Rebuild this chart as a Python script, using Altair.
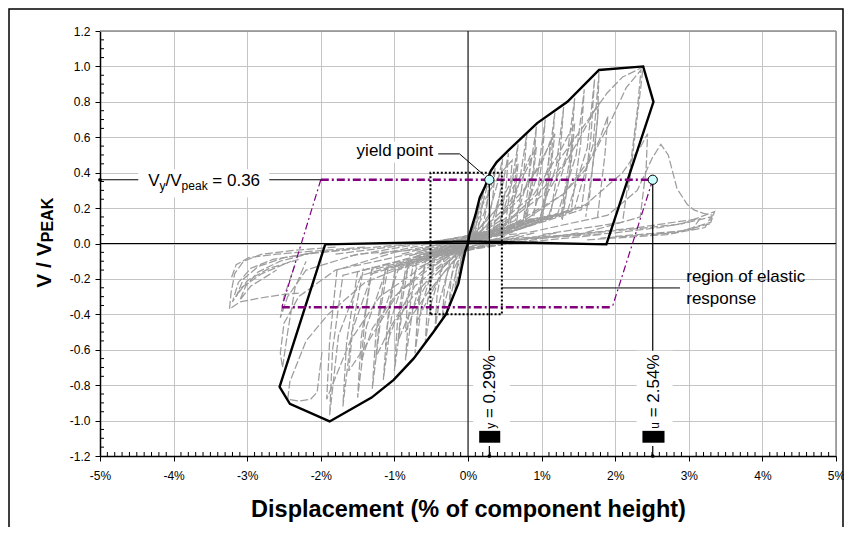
import altair as alt
import pandas as pd

FONT = "Liberation Sans"

# ---------------- values ----------------
x_ticks = [-5, -4, -3, -2, -1, 0, 1, 2, 3, 4, 5]
y_ticks = [-1.2, -1.0, -0.8, -0.6, -0.4, -0.2, 0.0, 0.2, 0.4, 0.6, 0.8, 1.0, 1.2]

# black envelope polygon (displacement %, V/Vpeak)
envelope_d = [-1.94, 0.00, 1.88, 2.52, 2.38, 1.78, 1.35, 0.94, 0.56, 0.39, 0.31, 0.23, 0.16,
              0.10, 0.02, 0.00, -0.04, -0.13, -0.30, -0.47, -0.74, -1.01, -1.31, -1.88,
              -2.42, -2.56, -1.94]
envelope_v = [-0.005, 0.012, -0.005, 0.80, 1.00, 0.98, 0.80, 0.68, 0.53, 0.46, 0.41, 0.32, 0.26,
              0.16, 0.05, 0.00, -0.045, -0.225, -0.40, -0.50, -0.65, -0.77, -0.87, -1.005,
              -0.905, -0.81, -0.005]

# grey hysteresis half-cycles (displacement %, V/Vpeak)
loop_p01 = [(-0.03, -0.02), (0.02, 0.04), (0.05, 0.08), (0.08, 0.12), (0.06, 0.06), (0.03, 0.02), (0.0, 0.0)]
loop_p02 = [(-0.05, -0.03), (0.03, 0.05), (0.09, 0.14), (0.14, 0.22), (0.12, 0.12), (0.07, 0.04), (0.0, 0.0)]
loop_p03 = [(-0.08, -0.03), (0.04, 0.05), (0.12, 0.15), (0.18, 0.25), (0.21, 0.30), (0.18, 0.17), (0.12, 0.05), (0.02, 0.0)]
loop_p04 = [(-0.10, -0.04), (0.05, 0.05), (0.16, 0.16), (0.24, 0.29), (0.29, 0.38), (0.26, 0.22), (0.19, 0.07), (0.04, 0.01)]
loop_p05 = [(-0.12, -0.04), (0.07, 0.05), (0.22, 0.17), (0.31, 0.32), (0.37, 0.43), (0.34, 0.27), (0.26, 0.08), (0.06, 0.01)]
loop_p06 = [(-0.15, -0.04), (0.10, 0.05), (0.28, 0.16), (0.40, 0.34), (0.47, 0.48), (0.44, 0.30), (0.35, 0.09), (0.08, 0.02)]
loop_p07 = [(-0.20, -0.05), (0.12, 0.05), (0.34, 0.14), (0.47, 0.33), (0.55, 0.51), (0.52, 0.33), (0.43, 0.10), (0.10, 0.02)]
loop_p08 = [(-0.25, -0.04), (0.15, 0.05), (0.44, 0.13), (0.59, 0.33), (0.68, 0.56), (0.64, 0.36), (0.55, 0.11), (0.14, 0.03)]
loop_p09 = [(-0.30, -0.05), (0.18, 0.05), (0.54, 0.12), (0.70, 0.35), (0.80, 0.62), (0.76, 0.40), (0.66, 0.12), (0.18, 0.03)]
loop_p10 = [(-0.35, -0.05), (0.20, 0.05), (0.64, 0.13), (0.83, 0.38), (0.93, 0.66), (0.89, 0.43), (0.78, 0.13), (0.22, 0.03)]
loop_p11 = [(-0.40, -0.05), (0.25, 0.05), (0.75, 0.13), (0.95, 0.40), (1.05, 0.70), (1.00, 0.45), (0.89, 0.14), (0.26, 0.04)]
loop_p12 = [(-0.45, -0.05), (0.28, 0.06), (0.86, 0.14), (1.08, 0.42), (1.18, 0.74), (1.13, 0.48), (1.01, 0.15), (0.30, 0.04)]
loop_p13 = [(-0.50, -0.06), (0.32, 0.06), (0.98, 0.15), (1.20, 0.44), (1.30, 0.77), (1.25, 0.50), (1.12, 0.16), (0.34, 0.04)]
loop_p14 = [(-0.55, -0.06), (0.36, 0.06), (1.10, 0.16), (1.34, 0.48), (1.45, 0.82), (1.40, 0.53), (1.27, 0.17), (0.38, 0.04)]
loop_p15 = [(-0.60, -0.06), (0.40, 0.06), (1.22, 0.17), (1.47, 0.50), (1.58, 0.87), (1.53, 0.56), (1.40, 0.18), (0.42, 0.05)]
loop_p16 = [(-0.70, -0.07), (0.45, 0.07), (1.35, 0.18), (1.62, 0.54), (1.72, 0.93), (1.67, 0.60), (1.54, 0.19), (0.46, 0.05)]
loop_p17 = [(-0.80, -0.07), (0.50, 0.07), (1.45, 0.20), (1.70, 0.56), (1.78, 0.97), (1.76, 0.70), (1.64, 0.22), (0.50, 0.05)]
loop_q01 = [(-0.3, -0.03), (0.10, 0.06), (0.40, 0.20), (0.60, 0.36), (0.68, 0.45), (0.64, 0.28), (0.56, 0.08)]
loop_q02 = [(-0.5, -0.04), (0.15, 0.06), (0.55, 0.22), (0.80, 0.42), (0.93, 0.55), (0.88, 0.35), (0.78, 0.10)]
loop_q03 = [(-0.7, -0.05), (0.20, 0.06), (0.70, 0.25), (1.00, 0.47), (1.18, 0.62), (1.12, 0.40), (1.00, 0.12)]
loop_q04 = [(-0.9, -0.06), (0.30, 0.07), (0.90, 0.28), (1.25, 0.52), (1.45, 0.68), (1.40, 0.45), (1.27, 0.14)]
loop_q05 = [(-1.2, -0.06), (0.40, 0.08), (1.10, 0.30), (1.50, 0.58), (1.78, 0.80), (1.72, 0.52), (1.60, 0.15)]
loop_q06 = [(-1.6, -0.07), (0.50, 0.08), (1.30, 0.28), (1.70, 0.50), (1.95, 0.70), (2.15, 0.88), (2.35, 0.98),
            (2.30, 0.75), (2.20, 0.42), (2.10, 0.12), (1.00, 0.05)]
loop_q07 = [(1.20, 0.45), (1.60, 0.68), (1.89, 0.85), (2.10, 0.94), (2.30, 0.98), (2.38, 1.00), (2.33, 0.82),
            (2.26, 0.58), (2.18, 0.30)]
loop_q08 = [(-1.8, -0.06), (0.60, 0.07), (1.60, 0.22), (2.10, 0.40), (2.35, 0.55), (2.44, 0.62), (2.42, 0.42),
            (2.34, 0.15), (1.50, 0.05)]
loop_q09 = [(-2.0, -0.05), (0.80, 0.06), (1.90, 0.16), (2.30, 0.30), (2.50, 0.48), (2.62, 0.56), (2.72, 0.50),
            (2.84, 0.31), (2.98, 0.22), (3.07, 0.19), (3.20, 0.17), (3.32, 0.16), (3.28, 0.11), (2.80, 0.06),
            (1.80, 0.03)]
loop_q10 = [(0.0, 0.0), (1.0, 0.03), (2.0, 0.06), (2.6, 0.09), (3.0, 0.12), (3.30, 0.15), (3.22, 0.09),
            (2.7, 0.05), (1.6, 0.02)]
loop_q11 = [(0.2, 0.01), (1.2, 0.04), (2.2, 0.08), (2.9, 0.11), (3.35, 0.18), (3.30, 0.12), (2.9, 0.07), (2.0, 0.04)]
loop_q12 = [(0.3, 0.02), (1.4, 0.05), (2.3, 0.09), (2.8, 0.12), (3.15, 0.14), (3.05, 0.08), (2.5, 0.05)]
loop_f01 = [(-0.2, -0.02), (0.05, 0.04), (0.30, 0.15), (0.55, 0.28), (0.75, 0.40), (0.85, 0.50), (0.82, 0.32), (0.74, 0.10)]
loop_f02 = [(-0.4, -0.03), (0.05, 0.03), (0.40, 0.14), (0.75, 0.30), (1.00, 0.45), (1.12, 0.58), (1.08, 0.38), (0.98, 0.12)]
loop_f03 = [(-0.6, -0.04), (0.10, 0.03), (0.60, 0.15), (1.00, 0.30), (1.30, 0.45), (1.42, 0.60), (1.38, 0.40), (1.28, 0.13)]
loop_f04 = [(-1.0, -0.05), (0.10, 0.03), (0.80, 0.14), (1.30, 0.28), (1.60, 0.42), (1.80, 0.60), (1.90, 0.72),
            (1.86, 0.50), (1.76, 0.15)]
loop_f05 = [(-0.1, -0.01), (0.04, 0.06), (0.15, 0.18), (0.30, 0.30), (0.45, 0.40), (0.60, 0.47), (0.57, 0.30), (0.50, 0.08)]
loop_n01 = [(0.03, 0.02), (-0.02, -0.03), (-0.04, -0.07), (-0.06, -0.10), (-0.05, -0.05), (-0.02, -0.01), (0.0, 0.0)]
loop_n02 = [(0.05, 0.03), (-0.03, -0.04), (-0.08, -0.12), (-0.12, -0.20), (-0.10, -0.10), (-0.05, -0.02), (0.0, 0.0)]
loop_n03 = [(0.07, 0.03), (-0.04, -0.04), (-0.11, -0.13), (-0.16, -0.23), (-0.18, -0.28), (-0.16, -0.15), (-0.10, -0.04), (-0.01, 0.0)]
loop_n04 = [(0.09, 0.04), (-0.05, -0.04), (-0.15, -0.14), (-0.22, -0.27), (-0.26, -0.36), (-0.23, -0.20), (-0.16, -0.05), (-0.02, 0.0)]
loop_n05 = [(0.12, 0.04), (-0.07, -0.04), (-0.20, -0.15), (-0.30, -0.31), (-0.35, -0.43), (-0.32, -0.25), (-0.23, -0.06), (-0.04, -0.01)]
loop_n06 = [(0.15, 0.05), (-0.09, -0.04), (-0.27, -0.15), (-0.39, -0.33), (-0.45, -0.49), (-0.42, -0.29), (-0.32, -0.07), (-0.06, -0.01)]
loop_n07 = [(0.20, 0.05), (-0.12, -0.04), (-0.36, -0.14), (-0.50, -0.34), (-0.58, -0.56), (-0.55, -0.33), (-0.45, -0.08), (-0.09, -0.02)]
loop_n08 = [(0.25, 0.05), (-0.15, -0.04), (-0.47, -0.13), (-0.63, -0.35), (-0.72, -0.62), (-0.68, -0.38), (-0.58, -0.10), (-0.12, -0.02)]
loop_n09 = [(0.30, 0.06), (-0.18, -0.04), (-0.58, -0.13), (-0.75, -0.37), (-0.85, -0.66), (-0.81, -0.42), (-0.70, -0.11), (-0.15, -0.02)]
loop_n10 = [(0.35, 0.06), (-0.22, -0.05), (-0.70, -0.14), (-0.90, -0.40), (-1.00, -0.72), (-0.96, -0.45), (-0.84, -0.12), (-0.18, -0.03)]
loop_n11 = [(0.40, 0.06), (-0.26, -0.05), (-0.82, -0.14), (-1.04, -0.42), (-1.15, -0.77), (-1.10, -0.48), (-0.98, -0.13), (-0.22, -0.03)]
loop_n12 = [(0.45, 0.06), (-0.30, -0.05), (-0.95, -0.15), (-1.19, -0.44), (-1.30, -0.82), (-1.25, -0.50), (-1.12, -0.14), (-0.26, -0.03)]
loop_n13 = [(0.50, 0.07), (-0.35, -0.05), (-1.12, -0.16), (-1.38, -0.47), (-1.50, -0.87), (-1.45, -0.53), (-1.31, -0.15), (-0.30, -0.04)]
loop_n14 = [(0.55, 0.07), (-0.40, -0.06), (-1.30, -0.17), (-1.58, -0.50), (-1.70, -0.92), (-1.65, -0.56), (-1.50, -0.16), (-0.34, -0.04)]
loop_n15 = [(0.60, 0.07), (-0.45, -0.06), (-1.45, -0.18), (-1.76, -0.52), (-1.88, -0.97), (-1.84, -0.60), (-1.70, -0.18), (-0.40, -0.04)]
loop_m01 = [(0.3, 0.03), (-0.10, -0.05), (-0.40, -0.20), (-0.60, -0.36), (-0.70, -0.45), (-0.66, -0.28), (-0.57, -0.08)]
loop_m02 = [(0.5, 0.04), (-0.15, -0.06), (-0.55, -0.22), (-0.82, -0.42), (-0.95, -0.55), (-0.90, -0.34), (-0.80, -0.10)]
loop_m03 = [(0.7, 0.05), (-0.20, -0.06), (-0.72, -0.24), (-1.05, -0.47), (-1.25, -0.64), (-1.20, -0.40), (-1.08, -0.12)]
loop_m04 = [(0.9, 0.06), (-0.30, -0.07), (-0.95, -0.28), (-1.35, -0.55), (-1.62, -0.72), (-1.56, -0.45), (-1.42, -0.14)]
loop_m05 = [(1.2, 0.06), (-0.40, -0.07), (-1.20, -0.30), (-1.60, -0.55), (-1.92, -0.88), (-1.88, -0.55), (-1.78, -0.15), (-1.00, -0.05)]
loop_m06 = [(1.5, 0.06), (-0.50, -0.07), (-1.40, -0.22), (-1.90, -0.40), (-2.20, -0.55), (-2.42, -0.78), (-2.45, -0.88),
            (-2.30, -0.89), (-2.14, -0.88), (-2.05, -0.84), (-1.98, -0.60)]
loop_m07 = [(1.8, 0.05), (-0.80, -0.06), (-1.80, -0.15), (-2.30, -0.30), (-2.50, -0.45), (-2.55, -0.62), (-2.52, -0.70),
            (-2.45, -0.50), (-2.35, -0.25), (-2.20, -0.10)]
loop_m08 = [(-0.5, -0.03), (-1.5, -0.06), (-2.2, -0.15), (-2.45, -0.30), (-2.55, -0.42), (-2.50, -0.30), (-2.35, -0.12)]
loop_g01 = [(0.2, 0.02), (-0.05, -0.04), (-0.30, -0.15), (-0.55, -0.28), (-0.75, -0.40), (-0.85, -0.50), (-0.82, -0.32), (-0.74, -0.10)]
loop_g02 = [(0.4, 0.03), (-0.05, -0.03), (-0.40, -0.14), (-0.75, -0.30), (-1.00, -0.45), (-1.12, -0.58), (-1.08, -0.38), (-0.98, -0.12)]
loop_g03 = [(0.6, 0.04), (-0.10, -0.03), (-0.60, -0.15), (-1.00, -0.30), (-1.30, -0.48), (-1.45, -0.66), (-1.40, -0.42), (-1.30, -0.13)]
loop_t01 = [(-1.8, -0.02), (-2.4, -0.04), (-2.8, -0.06), (-3.05, -0.10), (-3.17, -0.17), (-3.22, -0.28), (-3.24, -0.37),
            (-3.10, -0.33), (-2.85, -0.31), (-2.55, -0.29), (-2.30, -0.28)]
loop_t02 = [(-1.6, -0.03), (-2.2, -0.06), (-2.65, -0.09), (-2.95, -0.14), (-3.12, -0.22), (-3.20, -0.33), (-3.08, -0.25),
            (-2.80, -0.17), (-2.40, -0.10)]
loop_t03 = [(-1.9, -0.04), (-2.5, -0.08), (-2.85, -0.13), (-3.05, -0.20), (-3.15, -0.30), (-3.00, -0.21), (-2.70, -0.14),
            (-2.30, -0.09)]
loop_t04 = [(-2.1, -0.05), (-2.55, -0.10), (-2.85, -0.16), (-3.02, -0.24), (-3.10, -0.32), (-2.95, -0.24), (-2.60, -0.15)]
loop_t05 = [(-1.4, -0.02), (-2.0, -0.04), (-2.6, -0.06), (-2.98, -0.08), (-3.15, -0.12), (-3.22, -0.20)]

grey_loops = [loop_p01, loop_p02, loop_p03, loop_p04, loop_p05, loop_p06, loop_p07, loop_p08, loop_p09,
              loop_p10, loop_p11, loop_p12, loop_p13, loop_p14, loop_p15, loop_p16, loop_p17,
              loop_q01, loop_q02, loop_q03, loop_q04, loop_q05, loop_q06, loop_q07, loop_q08, loop_q09,
              loop_q10, loop_q11, loop_q12, loop_f01, loop_f02, loop_f03, loop_f04, loop_f05,
              loop_n01, loop_n02, loop_n03, loop_n04, loop_n05, loop_n06, loop_n07, loop_n08, loop_n09,
              loop_n10, loop_n11, loop_n12, loop_n13, loop_n14, loop_n15,
              loop_m01, loop_m02, loop_m03, loop_m04, loop_m05, loop_m06, loop_m07, loop_m08,
              loop_g01, loop_g02, loop_g03,
              loop_t01, loop_t02, loop_t03, loop_t04, loop_t05]

yield_disp = 0.29      # % (drawn position of yield point)
ult_disp = 2.51        # % (drawn position of ultimate point)
vy_ratio = 0.36        # Vy / Vpeak
yield_text = "= 0.29%"
ult_text = "= 2.54%"
elastic_d = [-0.51, 0.46]
elastic_v = [-0.40, 0.40]
purple_low_d = [-2.53, 1.96]

# ---------------- axes ----------------
x_axis = alt.Axis(values=x_ticks,
                  labelExpr="replace(format(datum.value, 'd'), '\u2212', '-') + '%'",
                  labelFont=FONT, labelFontSize=12, labelColor="black", labelPadding=9,
                  labelFlush=False, labelOverlap=False,
                  tickSize=5, tickColor="black", tickWidth=1,
                  domainColor="black", domainWidth=1.5,
                  grid=True, gridColor="#c4c4c4", gridWidth=1,
                  title="Displacement (% of component height)", titleFont=FONT,
                  titleFontSize=23.5, titleFontWeight="bold", titleColor="black",
                  titleY=60, titleBaseline="alphabetic")
y_axis = alt.Axis(values=y_ticks,
                  labelExpr="replace(format(datum.value, '.1f'), '\u2212', '-')",
                  labelFont=FONT, labelFontSize=12, labelColor="black", labelPadding=5,
                  labelFlush=False, labelOverlap=False,
                  tickSize=5, tickColor="black", tickWidth=1,
                  domainColor="black", domainWidth=1.5,
                  grid=True, gridColor="#c4c4c4", gridWidth=1, title="")

# ---------------- helpers ----------------
xs = alt.Scale(domain=[-5, 5], nice=False, zero=False)
ys = alt.Scale(domain=[-1.2, 1.2], nice=False, zero=False)
one = pd.DataFrame({"k": [0]})


def X(f):
    return alt.X(f, type="quantitative", scale=xs, axis=x_axis)


def Y(f):
    return alt.Y(f, type="quantitative", scale=ys, axis=y_axis)


def XD(val):
    return alt.XDatum(val, type="quantitative", scale=xs, axis=x_axis)


def YD(val):
    return alt.YDatum(val, type="quantitative", scale=ys, axis=y_axis)


def seg_df(segs):
    rows = []
    for s, pts in enumerate(segs):
        for o, (d, v) in enumerate(pts):
            rows.append({"s": s, "o": o, "d": d, "v": v})
    return pd.DataFrame(rows)


def lines(segs, **mark):
    return alt.Chart(seg_df(segs)).mark_line(**mark).encode(
        x=X("d"), y=Y("v"), detail="s:N", order="o:Q")


def box(d1, d2, v1, v2, **mark):
    return alt.Chart(one).mark_rect(**mark).encode(
        x=XD(d1), x2=alt.X2Datum(d2), y=YD(v1), y2=alt.Y2Datum(v2))


def txt(s, d, v, size=17, dx=0, dy=0, align="left", baseline="alphabetic", angle=0, weight="normal"):
    kw = dict(text=s, font=FONT, fontSize=size, align=align, baseline=baseline,
              dx=dx, dy=dy, color="black", fontWeight=weight)
    if angle:
        kw["angle"] = angle
    return alt.Chart(one).mark_text(**kw).encode(x=XD(d), y=YD(v))


grey = lines(grey_loops, color="#9d9d9d", strokeWidth=1.25, strokeDash=[8, 2.5])

frame_top = alt.Chart(one).mark_rule(color="#8c8c8c", strokeWidth=1.5).encode(y=YD(1.2))
frame_right = alt.Chart(one).mark_rule(color="#8c8c8c", strokeWidth=1.5).encode(x=XD(5))
zero_h = alt.Chart(one).mark_rule(color="black", strokeWidth=1).encode(y=YD(0))
zero_v = alt.Chart(one).mark_rule(color="black", strokeWidth=1).encode(x=XD(0))

env_df = pd.DataFrame({"d": envelope_d, "v": envelope_v, "o": range(len(envelope_d))})
envelope = alt.Chart(env_df).mark_line(color="black", strokeWidth=2.4).encode(
    x=X("d"), y=Y("v"), order="o:Q")

purple_thick = lines([[(-2.0, vy_ratio), (ult_disp, vy_ratio)],
                      [(purple_low_d[0], -vy_ratio), (purple_low_d[1], -vy_ratio)]],
                     color="#800080", strokeWidth=2.6, strokeDash=[8, 3, 2, 3])
purple_thin = lines([[(-2.0, vy_ratio), (purple_low_d[0], -vy_ratio)],
                     [(ult_disp, vy_ratio), (purple_low_d[1], -vy_ratio)]],
                    color="#800080", strokeWidth=1.2, strokeDash=[7, 3, 2, 3])
dotted = lines([[(elastic_d[0], elastic_v[0]), (elastic_d[0], elastic_v[1]), (elastic_d[1], elastic_v[1]),
                 (elastic_d[1], elastic_v[0]), (elastic_d[0], elastic_v[0])]],
               color="black", strokeWidth=2, strokeDash=[2, 2])

vy_line = lines([[(-5, vy_ratio), (-2.0, vy_ratio)]], color="black", strokeWidth=1.2)
drops = lines([[(yield_disp, vy_ratio), (yield_disp, -1.2)], [(ult_disp, vy_ratio), (ult_disp, -1.2)]],
              color="black", strokeWidth=1.2)
leaders = lines([[(-0.436, 0.506), (-0.115, 0.506), (0.22, 0.385)],
                 [(elastic_d[1], -0.251), (2.88, -0.251)]], color="black", strokeWidth=1)

white_boxes = [box(-4.48, -2.70, 0.42, 0.26, color="white"),
               box(-1.57, -0.405, 0.574, 0.456, color="white"),
               box(0.07, 0.57, -0.606, -1.143, color="white"),
               box(2.29, 2.78, -0.606, -1.143, color="white")]
glyph_boxes = [box(0.152, 0.438, -1.058, -1.125, color="black"),
               box(2.37, 2.67, -1.058, -1.125, color="black")]

pts_df = pd.DataFrame({"d": [yield_disp, ult_disp], "v": [vy_ratio, vy_ratio]})
circles = alt.Chart(pts_df).mark_point(shape="circle", filled=True, size=85, fill="#ccffff",
                                       stroke="black", strokeWidth=1, opacity=1).encode(
    x=X("d"), y=Y("v"))
dots_df = pd.DataFrame({"d": [-5, yield_disp, ult_disp], "v": [vy_ratio, -1.2, -1.2]})
dots = alt.Chart(dots_df).mark_point(shape="circle", filled=True, size=14, color="black", opacity=1).encode(
    x=X("d"), y=Y("v"))

texts = [
    txt("V", -4.345, 0.326),
    txt("y", -4.345, 0.326, size=12, dx=11.3, dy=4),
    txt("/V", -4.345, 0.326, dx=17.3),
    txt("peak", -4.345, 0.326, size=12, dx=33.4, dy=4),
    txt("= 0.36", -4.345, 0.326, dx=64.1),
    txt("yield point", -0.473, 0.495, align="right"),
    txt("region of elastic", 2.965, -0.22),
    txt("response", 2.965, -0.339),
    txt("y", yield_disp, -1.046, size=12, angle=270, baseline="middle", dy=2),
    txt(yield_text, yield_disp, -1.046, angle=270, baseline="middle", dx=10.7, dy=1),
    txt("u", ult_disp, -1.046, size=12, angle=270, baseline="middle", dy=2),
    txt(ult_text, ult_disp, -1.046, angle=270, baseline="middle", dx=11.4, dy=1),
]

ytitle = [
    alt.Chart(one).mark_text(text="V / V", font=FONT, fontSize=21, fontWeight="bold", angle=270,
                             align="left", baseline="alphabetic", color="black").encode(
        x=alt.value(-49), y=YD(-0.25)),
    alt.Chart(one).mark_text(text="PEAK", font=FONT, fontSize=16, fontWeight="bold", angle=270,
                             align="left", baseline="alphabetic", color="black", dx=45.5, dy=2).encode(
        x=alt.value(-49), y=YD(-0.25)),
]

x_minor = [round(-5 + 0.1 * i, 2) for i in range(101) if i % 10 != 0]
y_minor = [round(-1.2 + 0.05 * i, 3) for i in range(49) if i % 4 != 0]
xmin_rules = alt.Chart(pd.DataFrame({"t": x_minor})).mark_rule(color="black", strokeWidth=1).encode(
    x=X("t"), y=alt.value(425), y2=alt.value(421))
ymin_rules = alt.Chart(pd.DataFrame({"t": y_minor})).mark_rule(color="black", strokeWidth=1).encode(
    y=Y("t"), x=alt.value(0), x2=alt.value(4))

outer = alt.Chart(one).mark_rect(fillOpacity=0, stroke="black", strokeWidth=1.5).encode(
    x=alt.value(-91), x2=alt.value(743), y=alt.value(-22), y2=alt.value(530))

chart = alt.layer(
    grey, frame_top, frame_right, zero_h, zero_v, envelope, purple_thin, purple_thick, dotted,
    vy_line, drops, leaders, *white_boxes, *glyph_boxes, circles, dots, *texts, *ytitle,
    xmin_rules, ymin_rules, outer
).properties(
    width=736, height=425,
    padding={"left": 92, "top": 23, "right": 8, "bottom": 71},
    autosize=alt.AutoSizeParams(type="none"),
).configure_view(strokeWidth=0).configure(background="white")

chart.save("out.html", embed_options={"renderer": "svg", "actions": False})
